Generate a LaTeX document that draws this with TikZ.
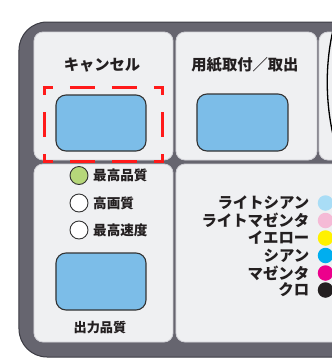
\documentclass[tikz,border=0pt]{standalone}
\usepackage{fontspec}
\newfontfamily\jp{Noto Sans CJK JP}
\definecolor{outerc}{HTML}{66656F}
\definecolor{outline}{HTML}{3C3C44}
\definecolor{panelc}{HTML}{EFF0F2}
\definecolor{paneledge}{HTML}{D2D2D7}
\definecolor{btnc}{HTML}{7CBDE8}
\definecolor{btnedge}{HTML}{333333}
\definecolor{greenc}{HTML}{B6D77A}
\definecolor{txt}{HTML}{231F20}
\definecolor{redc}{HTML}{FF1A1A}
\definecolor{lcyan}{HTML}{A9DDF6}
\definecolor{lmag}{HTML}{F5BAD6}
\definecolor{yel}{HTML}{FFF100}
\definecolor{cya}{HTML}{00AEEF}
\definecolor{mag}{HTML}{EC008C}
\definecolor{blk}{HTML}{231F20}
\begin{document}
\begin{tikzpicture}[x=1pt,y=-1pt,
  panel/.style={fill=panelc,draw=paneledge,line width=0.8pt,rounded corners=9pt},
  btn/.style={fill=btnc,draw=btnedge,line width=1.1pt,rounded corners=10pt},
  radio/.style={circle,draw=btnedge,line width=0.9pt,minimum size=18pt,inner sep=0pt},
  title/.style={font=\jp\bfseries\fontsize{15.3}{17}\selectfont,text=txt,inner sep=0pt},
  rlabel/.style={font=\jp\bfseries\fontsize{13.6}{15}\selectfont,text=txt,inner sep=0pt,anchor=west},
  ink/.style={font=\jp\bfseries\fontsize{15.4}{17}\selectfont,text=txt,inner sep=0pt,anchor=east},
  dot/.style={circle,minimum size=15.5pt,inner sep=0pt},
  hl/.style={draw=redc,line width=3pt,dash pattern=on 25pt off 17pt}
]
\useasboundingbox (0,0) rectangle (332,360);
\clip (0,0) rectangle (332,360);
% outer housing
\fill[outerc,draw=outline,line width=1pt,rounded corners=28pt] (19,22) rectangle (420,357);
% panels
\draw[panel] (34,32) rectangle (173,160);
\draw[panel] (176,32) rectangle (317,160);
\draw[panel] (319,32) rectangle (420,160);
\draw[panel] (34,164) rectangle (173,342);
\draw[panel] (176,164) rectangle (420,342);
% arc on right panel
\draw[black,line width=1.3pt] (334,26) .. controls (325,62) and (325,102) .. (334,139);
% cancel
\node[title] (cancel) at (102,65) {キャンセル};
\node[btn,minimum width=90pt,minimum height=56pt] (cancelbtn) at (101,123) {};
% highlight
\draw[hl,dash phase=15pt] (43,87.5) -- (164,87.5);
\draw[hl,dash phase=15pt] (43,161.5) -- (164,161.5);
\draw[hl,dash phase=16pt] (44.5,86) -- (44.5,163);
\draw[hl,dash phase=16pt] (162.5,86) -- (162.5,163);
% paper
\node[title] (paper) at (245,65) {用紙取付／取出};
\node[btn,minimum width=91pt,minimum height=57pt] (paperbtn) at (242.5,122.5) {};
% quality
\node[radio,fill=greenc] (r1) at (79,175.5) {};
\node[radio,fill=white] (r2) at (79,203) {};
\node[radio,fill=white] (r3) at (79,230) {};
\node[rlabel] (l1) at (93,175.5) {最高品質};
\node[rlabel] (l2) at (93,203) {高画質};
\node[rlabel] (l3) at (93,230) {最高速度};
\node[btn,minimum width=90pt,minimum height=57pt] (qbtn) at (101,281.5) {};
\node[font=\jp\bfseries\fontsize{13.2}{15}\selectfont,text=txt,inner sep=0pt] (qlabel) at (100,327.5) {出力品質};
% inks
\node[ink] (i1) at (309.5,203) {ライトシアン};
\node[ink] (i2) at (309.5,220.5) {ライトマゼンタ};
\node[ink] (i3) at (309.5,238) {イエロー};
\node[ink] (i4) at (309.5,255.5) {シアン};
\node[ink] (i5) at (309.5,273) {マゼンタ};
\node[ink] (i6) at (309.5,290) {クロ};
\node[dot,fill=lcyan] (d1) at (325.5,203) {};
\node[dot,fill=lmag] (d2) at (325.5,220.5) {};
\node[dot,fill=yel] (d3) at (325.5,238) {};
\node[dot,fill=cya] (d4) at (325.5,255.5) {};
\node[dot,fill=mag] (d5) at (325.5,273) {};
\node[dot,fill=blk] (d6) at (325.5,290) {};
\end{tikzpicture}
\end{document}
